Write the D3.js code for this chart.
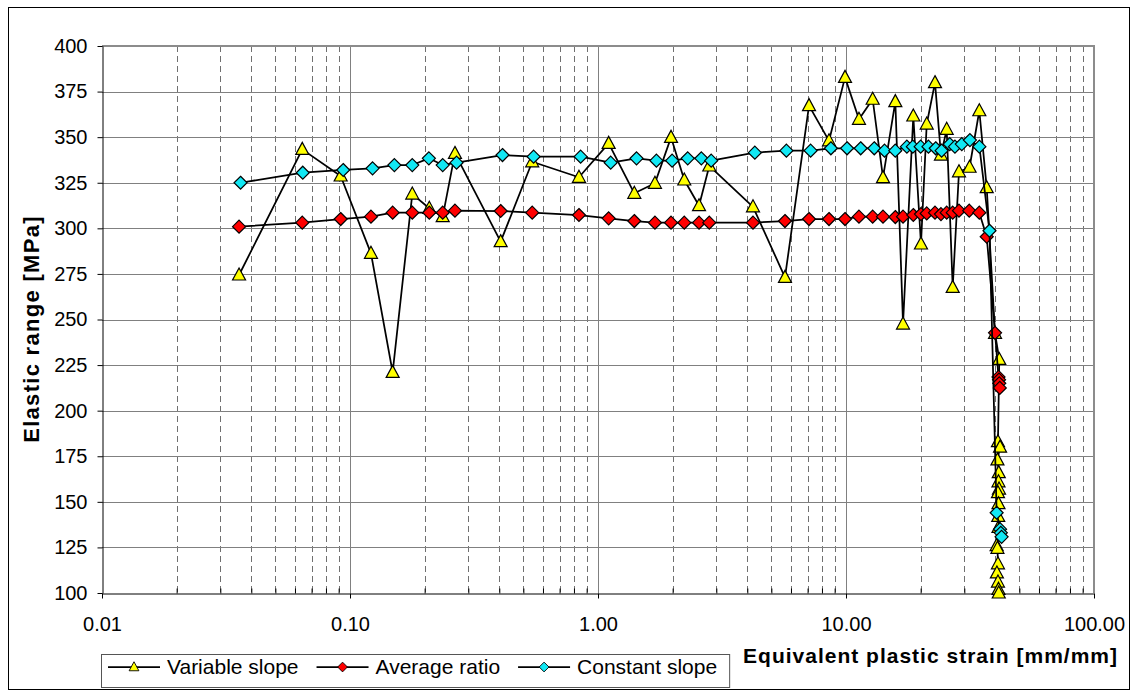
<!DOCTYPE html>
<html><head><meta charset="utf-8">
<script src="https://cdn.jsdelivr.net/npm/d3@7"></script>
<style>
body{margin:0;background:#fff}
svg{display:block}
text{font-family:Arial,"Liberation Sans",sans-serif}
</style>
</head><body>
<svg id="c" width="1137" height="690"></svg>
<script>
// ---------------- data ----------------
const xTickValues = [0.01, 0.1, 1, 10, 100];
const xTickLabels = ["0.01", "0.10", "1.00", "10.00", "100.00"];
const yTickValues = [100,125,150,175,200,225,250,275,300,325,350,375,400];
const seriesNames = ["Variable slope", "Average ratio", "Constant slope"];

const varX = [0.0357,0.0642,0.0917,0.1215,0.1486,0.1783,0.2088,0.2365,0.265,0.405,0.543,0.838,1.104,1.401,1.697,1.97,2.228,2.555,2.81,4.217,5.675,7.094,8.541,9.91,11.28,12.81,14.1,15.81,16.98,18.68,20.06,21.16,22.85,24.15,25.47,26.93,28.55,31.5,34.48,36.93,39.9,41.5,41.0,41.8,40.8,41.3,41.2,41.4,41.0,41.2,41.1,41.2,40.5,40.8,41.0,40.6,41.0,41.2,41.3];
const varY = [274.4,343.3,328.7,286.3,221,318.8,311,306.4,341.1,292.7,336.5,328,346.6,319.2,324.7,349.9,326.5,312.4,334.2,311.8,273.1,367.3,348,382.8,359.8,370.8,327.8,369.5,247.5,361.6,291.4,357.2,379.9,340.2,354.3,267.6,331,333.5,364.5,322.3,242.4,228.1,183,180,173,166,161,157,155,149,142,136,126,124.5,116,111,106,102,100];

const avgX = [0.0357,0.0642,0.0917,0.1215,0.1486,0.1783,0.2088,0.2365,0.265,0.405,0.543,0.838,1.104,1.401,1.697,1.97,2.228,2.555,2.81,4.217,5.675,7.094,8.541,9.91,11.28,12.81,14.1,15.81,16.98,18.68,20.06,21.16,22.85,24.15,25.47,26.93,28.55,31.4,34.48,36.93,39.9,41.2,41.4,41.5,41.7];
const avgY = [300.9,303.1,305.1,306.4,308.6,308.6,308.6,308.6,309.7,309.5,308.6,307.3,305.5,304,303.1,303.1,303.1,303.1,303.1,303.1,304,305.1,305.1,305.1,306.4,306.4,306.4,306.2,306.4,307.3,307.8,308.2,308.6,307.8,308.6,308.6,309.7,309.7,308.6,295.4,242.7,218.5,217,215,212.5];

const conX = [0.0362,0.0645,0.0939,0.1233,0.151,0.1783,0.208,0.2365,0.269,0.412,0.55,0.851,1.125,1.43,1.72,1.99,2.3,2.61,2.86,4.29,5.75,7.2,8.69,10.1,11.46,13.0,14.3,15.8,17.6,18.6,20.0,21.5,23.0,24.3,26.2,27.5,29.3,31.6,34.5,37.9,40.5,41.8,42.1,42.4];
const conY = [325,330.5,332,332.9,334.7,334.7,338.4,334.7,336,340.2,339.3,339.3,336,338.4,337.1,337.1,338.4,338.4,337.1,341.5,342.6,342.6,343.9,343.9,343.9,343.9,342.6,342.6,344.8,344.8,344.8,344.8,343.9,342.6,346.2,344.8,346.2,348.4,344.8,298.7,144,135,133,130.8];

// ---------------- drawing ----------------
const svg = d3.select("#c");
const L = 102, R = 1094, T = 46, B = 593;
const x = d3.scaleLog().domain([0.01, 100]).range([L, R]);
const y = d3.scaleLinear().domain([100, 400]).range([B, T]);

// outer frame
svg.append("rect").attr("x", 8.5).attr("y", 7.5).attr("width", 1121).attr("height", 682)
  .attr("fill", "#fff").attr("stroke", "#000").attr("stroke-width", 1);

// minor vertical grid (dashed)
const minors = [];
[0.01, 0.1, 1, 10].forEach(d => { for (let k = 2; k <= 9; k++) minors.push(k * d); });
const g = svg.append("g");
g.selectAll("line.minor").data(minors).join("line")
  .attr("x1", d => Math.round(x(d)) + 0.5).attr("x2", d => Math.round(x(d)) + 0.5)
  .attr("y1", T).attr("y2", B)
  .attr("stroke", "#707070").attr("stroke-width", 1).attr("stroke-dasharray", "6,4");
// major vertical grid
g.selectAll("line.major").data([0.1, 1, 10]).join("line")
  .attr("x1", d => Math.round(x(d)) + 0.5).attr("x2", d => Math.round(x(d)) + 0.5)
  .attr("y1", T).attr("y2", B).attr("stroke", "#808080").attr("stroke-width", 1);
// horizontal grid
g.selectAll("line.h").data(yTickValues.filter(v => v > 100 && v < 400)).join("line")
  .attr("x1", L).attr("x2", R)
  .attr("y1", d => Math.round(y(d)) + 0.5).attr("y2", d => Math.round(y(d)) + 0.5)
  .attr("stroke", "#808080").attr("stroke-width", 1);
// plot border top/right
svg.append("path").attr("d", `M${L},${T}H${R}V${B}`).attr("fill", "none")
  .attr("stroke", "#8c8c8c").attr("stroke-width", 2);

// y axis
const yAxis = svg.append("g").attr("transform", `translate(${L + 0.5},0)`)
  .call(d3.axisLeft(y).tickValues(yTickValues).tickSize(5).tickSizeOuter(0).tickFormat(d3.format("d")));
yAxis.select(".domain").attr("stroke", "#000");
yAxis.selectAll(".tick line").attr("stroke", "#000");
yAxis.selectAll(".tick text").attr("font-size", 20).attr("fill", "#000").attr("x", -15)
  .attr("font-family", "Arial, 'Liberation Sans', sans-serif");

// x axis
const xAxis = svg.append("g").attr("transform", `translate(0,${B + 0.5})`)
  .call(d3.axisBottom(x).tickValues(xTickValues).tickSize(5).tickSizeOuter(0)
    .tickFormat((d, i) => xTickLabels[i]));
xAxis.select(".domain").attr("stroke", "#000");
xAxis.selectAll(".tick line").attr("stroke", "#000");
xAxis.selectAll(".tick text").attr("font-size", 20).attr("fill", "#000").attr("y", 23)
  .attr("font-family", "Arial, 'Liberation Sans', sans-serif");
// minor ticks (inside)
const xMinor = svg.append("g").attr("transform", `translate(0,${B + 0.5})`)
  .call(d3.axisBottom(x).tickValues(minors).tickSize(-5).tickFormat(""));
xMinor.select(".domain").remove();
xMinor.selectAll(".tick line").attr("stroke", "#000");

// markers
const triPath = "M0,-7L6.5,5L-6.5,5Z";
const diaPath = "M0,-6.5L6.5,0L0,6.5L-6.5,0Z";
const line = d3.line().x(d => x(d[0])).y(d => y(d[1]));
const series = [
  {xs: varX, ys: varY, shape: triPath, fill: "#ffff00"},
  {xs: avgX, ys: avgY, shape: diaPath, fill: "#ff0000"},
  {xs: conX, ys: conY, shape: diaPath, fill: "#11e8f4"}
];
series.forEach(s => {
  const pts = s.xs.map((v, i) => [v, s.ys[i]]);
  const sg = svg.append("g");
  sg.append("path").datum(pts).attr("d", line).attr("fill", "none")
    .attr("stroke", "#000").attr("stroke-width", 1.75).attr("stroke-linejoin", "round");
  sg.selectAll("path.m").data(pts).join("path").attr("class", "m")
    .attr("d", s.shape)
    .attr("transform", d => `translate(${x(d[0])},${y(d[1])})`)
    .attr("fill", s.fill).attr("stroke", "#000").attr("stroke-width", 1.2);
});

// axis titles
svg.append("text").attr("transform", "translate(39,329) rotate(-90)")
  .attr("text-anchor", "middle").attr("font-size", 22).attr("font-weight", "bold")
  .attr("letter-spacing", 1.3)
  .text("Elastic range [MPa]");
svg.append("text").attr("x", 1118).attr("y", 663).attr("text-anchor", "end")
  .attr("font-size", 21).attr("font-weight", "bold").attr("letter-spacing", 1)
  .text("Equivalent plastic strain [mm/mm]");

// legend
const lg = svg.append("g");
const ly = 667;
const box = lg.append("rect").attr("x", 101.5).attr("y", 654.5).attr("height", 33)
  .attr("fill", "#fff").attr("stroke", "#555").attr("stroke-width", 1);
let cx = 108;
series.forEach((s, i) => {
  lg.append("line").attr("x1", cx).attr("x2", cx + 52).attr("y1", ly).attr("y2", ly)
    .attr("stroke", "#000").attr("stroke-width", 1.75);
  lg.append("path").attr("d", s.shape).attr("transform", `translate(${cx + 26},${ly}) scale(0.75)`)
    .attr("fill", s.fill).attr("stroke", "#000").attr("stroke-width", 1.2);
  const t = lg.append("text").attr("x", cx + 59).attr("y", ly + 7).attr("font-size", 21)
    .text(seriesNames[i]);
  cx = cx + 59 + t.node().getComputedTextLength() + 18;
});
box.attr("width", cx - 101 - 6);
</script>
</body></html>
